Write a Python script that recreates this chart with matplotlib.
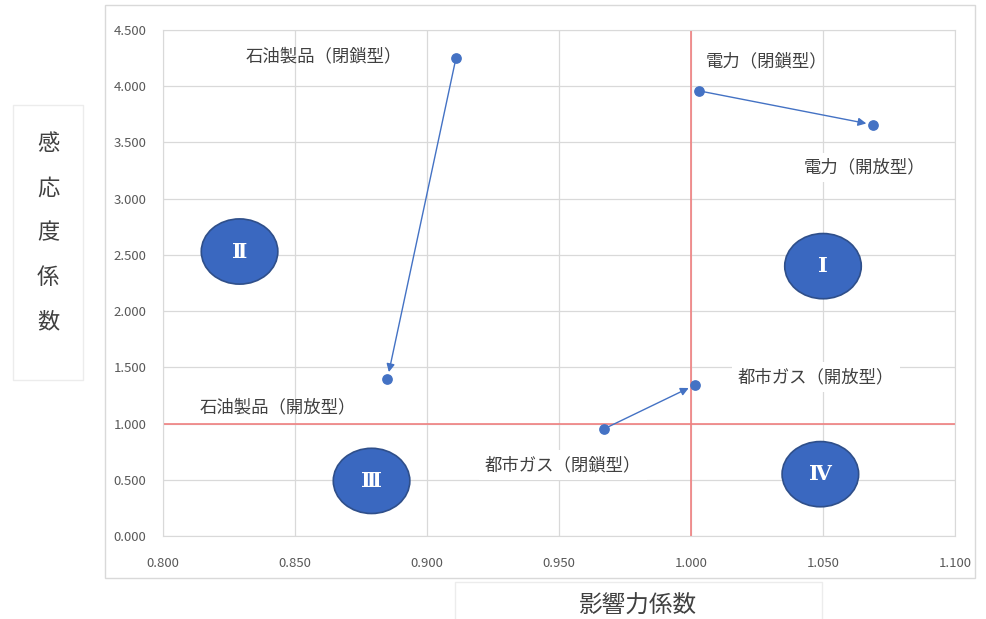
import matplotlib.pyplot as plt
from matplotlib.patches import Ellipse, Rectangle

plt.rcParams['font.family'] = ['Noto Sans CJK JP', 'DejaVu Sans']

# data
labels = ['石油製品（閉鎖型）', '石油製品（開放型）', '電力（閉鎖型）', '電力（開放型）',
          '都市ガス（閉鎖型）', '都市ガス（開放型）']
influence = [0.911, 0.885, 1.003, 1.069, 0.967, 1.0015]   # 影響力係数
sensitivity = [4.253, 1.397, 3.959, 3.657, 0.952, 1.343]  # 感応度係数
arrows = [(0, 1), (2, 3), (4, 5)]  # 閉鎖型 -> 開放型
label_offsets = [(-132, 1), (-110, -28), (68, 30), (-9, -43), (-41, -36), (121, 8)]
label_boxed = [False, False, False, True, True, True]

quadrants = ['Ⅰ', 'Ⅱ', 'Ⅲ', 'Ⅳ']
quad_x = [1.050, 0.829, 0.879, 1.049]
quad_y = [2.40, 2.53, 0.49, 0.55]

xticks = [0.80, 0.85, 0.90, 0.95, 1.00, 1.05, 1.10]
yticks = [0.0, 0.5, 1.0, 1.5, 2.0, 2.5, 3.0, 3.5, 4.0, 4.5]

blue = '#4472C4'
fig = plt.figure(figsize=(9.86, 6.19), dpi=100)
W, H = 986, 619

# outer frames (chart area, axis title boxes)
fig.patches.append(Rectangle((105 / W, 1 - 578 / H), 870 / W, 573 / H, transform=fig.transFigure,
                             fill=False, edgecolor='#d9d9d9', lw=1))
fig.patches.append(Rectangle((13 / W, 1 - 380 / H), 70 / W, 275 / H, transform=fig.transFigure,
                             fill=False, edgecolor='#ececec', lw=1))
fig.patches.append(Rectangle((455 / W, 1 - 622 / H), 367 / W, 40 / H, transform=fig.transFigure,
                             fill=False, edgecolor='#ececec', lw=1))

ax = fig.add_axes([163 / W, 1 - 536 / H, 792 / W, 506 / H])
ax.set_xlim(0.8, 1.1)
ax.set_ylim(0, 4.5)
ax.set_xticks(xticks)
ax.set_yticks(yticks)
ax.set_xticklabels([f'{v:.3f}' for v in xticks])
ax.set_yticklabels([f'{v:.3f}' for v in yticks])
ax.tick_params(length=0, labelsize=9.5, labelcolor='#595959')
ax.tick_params(axis='x', pad=15)
ax.tick_params(axis='y', pad=12)
ax.grid(True, color='#d9d9d9', lw=0.9)
ax.set_axisbelow(True)
for s in ax.spines.values():
    s.set_color('#d9d9d9')

ax.axvline(1.0, color='#f08080', lw=1.2, zorder=1)
ax.axhline(1.0, color='#f08080', lw=1.2, zorder=1)

for q, qx, qy in zip(quadrants, quad_x, quad_y):
    ax.add_patch(Ellipse((qx, qy), 0.029, 0.58, facecolor='#3a68c0', edgecolor='#2f4f8a',
                         lw=1.2, zorder=3))
    ax.text(qx, qy, q, color='white', fontsize=15, fontweight='bold', ha='center', va='center',
            family=['DejaVu Serif', 'Noto Sans CJK JP'], zorder=4)

for a, b in arrows:
    ax.annotate('', xy=(influence[b], sensitivity[b]), xytext=(influence[a], sensitivity[a]),
                arrowprops=dict(arrowstyle='-|>', color=blue, lw=1, shrinkA=0, shrinkB=5,
                                mutation_scale=12), zorder=4)

ax.scatter(influence, sensitivity, s=45, color=blue, zorder=5)

for name, x, y, off, boxed in zip(labels, influence, sensitivity, label_offsets, label_boxed):
    bbox = dict(facecolor='white', edgecolor='none', pad=4) if boxed else None
    ax.annotate(name, (x, y), xytext=off, textcoords='offset pixels', ha='center', va='center',
                fontsize=12.5, color='#404040', bbox=bbox, zorder=6)

fig.text(48 / W, 1 - 233 / H, '感\n応\n度\n係\n数', ha='center', va='center', fontsize=16,
         color='#404040', linespacing=2.2)
fig.text(638 / W, 1 - 606 / H, '影響力係数', ha='center', va='center', fontsize=17, color='#404040')

fig.savefig('out.png', dpi=100, facecolor='white')
